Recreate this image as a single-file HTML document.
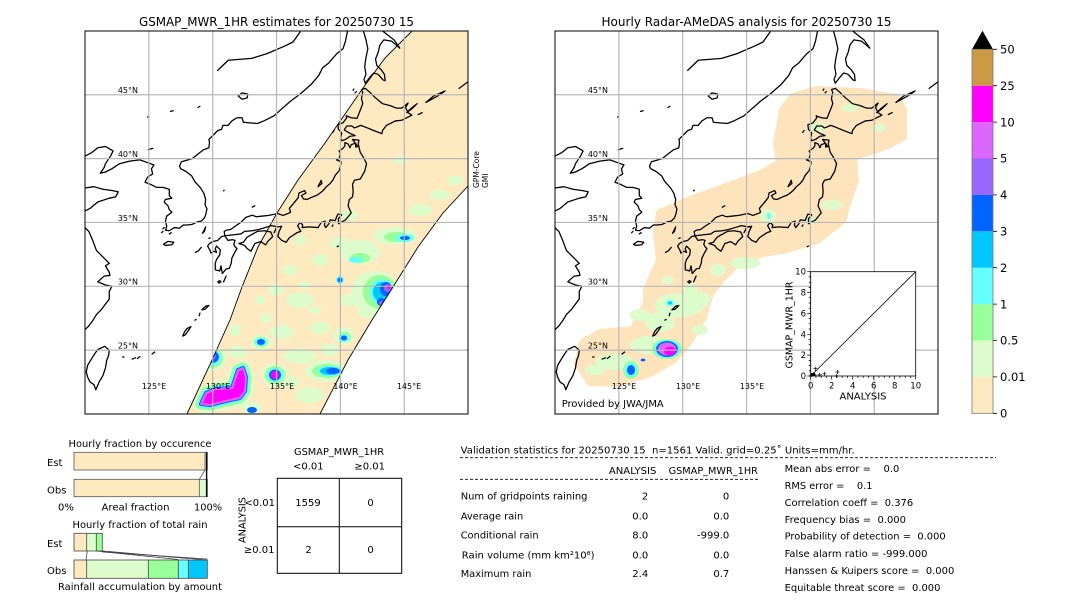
<!DOCTYPE html>
<html><head><meta charset="utf-8"><style>
html,body{margin:0;padding:0;background:#fff;}
svg{display:block;}
text{white-space:pre;font-family:"DejaVu Sans","Liberation Sans",sans-serif;fill:#000;}
</style></head><body>
<svg width="1080" height="612" viewBox="0 0 1080 612" xmlns="http://www.w3.org/2000/svg" xmlns:xlink="http://www.w3.org/1999/xlink">
<defs>
<clipPath id="cl"><rect x="85" y="31" width="383" height="383"/></clipPath>
<clipPath id="cr"><rect x="555" y="31" width="383" height="383"/></clipPath>
<clipPath id="sw"><path d="M412,31 L385,58 363,88 325,143 298,180 277,213 258,247 242,287 230,320 212,360 187,414 L320,414 348,360 372,320 393,287 418,247 443,213 468,186 L468,31 Z"/></clipPath>
<g id="coast" transform="matrix(12.77 0 0 -12.77 -1447.4 669.4)" fill="none" stroke="#000" stroke-width="0.1" stroke-linejoin="round" stroke-linecap="round">
<path d="M120,40.2 120.5,40.45 121,40.85 121.6,40.95 122.2,40.6 122,40.2 121.6,39.6 121.5,39.3 121.2,38.85 121.6,38.95 122.1,39.2 122.7,39.6 123.5,39.8 124.3,39.9 125,39.65 125.4,39.5 125.2,39.2 125.3,38.8 124.9,38.55 124.7,38.15 125.1,38 125.6,37.75 126.1,37.75 126.6,37.6 126.6,37.1 126.8,36.9 126.3,36.8 126.2,36.6 126.5,36.3 126.6,36 126.8,35.8 126.4,35.5 126.3,35.1 126.4,34.7 126.3,34.4 126.6,34.35 127,34.6 127.4,34.55 127.7,34.8 128,34.8 128.4,34.85 128.8,35.05 129.1,35.1 129.35,35.35 129.45,35.6 129.55,36.05 129.4,36.4 129.45,36.8 129.3,37.3 129.05,37.7 128.6,38.2 128.35,38.65 127.9,39 127.5,39.2 127.4,39.4 127.55,39.75 127.9,39.85 128.4,40 128.9,40.4 129.3,40.7 129.7,40.85 129.75,41.3 129.7,41.5 130,41.8 130.4,42.2 130.7,42.3 130.8,42.6 131.2,42.6 131.5,42.95 131.9,43.2 132.3,43.2 132.4,42.85 132.9,42.8 133.5,42.75 134,42.95 134.8,43.35 135.3,43.8 136.1,44.5 136.9,45.1 137.7,45.8 138.3,46.5 138.6,47.1 139.1,47.5 139.7,48.2 140.2,48.6 140.4,49.2 140.6,50.2"/>
<path d="M120,37.7 120.7,37.8 121.4,37.6 122.1,37.5 122.6,37.4 122.4,37 121.9,36.9 121,36.6 120.4,36.1 120,35.9"/>
<path d="M120,34.6 120.3,34.3 120.6,33.6 120.9,32.8 121.4,32.3 121.9,31.8 121.6,31.6 121.9,31.1 121.95,30.85 121.5,30.8 121,30.35 121.6,30.1 122.1,30 121.9,29.6 121.9,29 121.6,28.6 121.3,28.2 120.9,27.8 120.6,27.3 120.3,26.9 120,26.6"/>
<path d="M121,25.05 121.55,25.3 121.9,25 121.85,24.6 121.7,24.2 121.6,23.6 121.4,23 121.1,22.5 120.85,21.9 120.7,22.3 120.4,22.5 120.2,22.9 120.1,23.3 120.2,23.8 120.5,24.3 120.75,24.7 Z"/>
<path d="M141.95,45.5 142.3,45.2 142.7,44.8 143.3,44.3 143.9,44.15 144.4,43.95 144.8,43.95 145.3,44.35 145.1,44 145.3,43.6 145.6,43.4 145.2,43.2 144.8,43 144.3,42.95 143.6,42.6 143.3,42.2 143.25,41.95 142.6,42.2 142,42.45 141.6,42.6 141.1,42.4 140.9,42.55 140.5,42.55 140.3,42.25 140.7,42 141.15,41.8 140.75,41.75 140.4,41.5 140.1,41.4 140,41.6 140.1,42 139.85,42.3 139.8,42.65 140.2,42.8 140.5,43.2 140.45,43.35 140.85,43.2 141.3,43.15 141.4,43.4 141.6,43.9 141.75,44.3 141.65,44.7 141.75,45.2 141.65,45.4 Z"/>
<path d="M140.35,41.25 140.6,41.15 140.75,40.85 140.85,41.1 141.2,41.2 141.2,40.9 141.35,40.95 141.1,41.3 140.95,41.5 141.45,41.45 141.4,41.15 141.55,40.5 141.8,40.1 142.05,39.6 141.9,39 141.55,38.4 141.1,38.3 140.95,38 141,37.4 140.95,37 140.7,36.8 140.6,36.3 140.85,35.75 140.4,35.2 139.85,34.9 139.85,35.3 140.1,35.6 139.8,35.65 139.65,35.3 139.6,35.15 139.2,35.2 139.1,34.9 138.85,34.6 138.75,34.8 138.8,35.1 138.5,35 138.25,34.6 137.5,34.65 137,34.6 137.05,34.8 136.85,35 136.65,34.75 136.9,34.3 136.6,34.2 136,33.8 135.75,33.45 135.4,33.6 135.1,33.9 135.2,34.3 135.4,34.7 135.1,34.65 134.6,34.75 134.1,34.6 133.6,34.45 133.1,34.35 132.5,34.3 132.2,34.1 131.75,34.05 131.3,34 130.95,33.95 130.9,34.3 131.1,34.4 131.4,34.45 131.75,34.7 132.2,35 132.6,35.4 133.1,35.57 133.4,35.45 133.9,35.5 134.4,35.55 135.1,35.7 135.5,35.55 135.9,35.7 136.1,35.8 136,36.1 136.3,36.45 136.7,36.95 136.75,37.3 137.2,37.5 137.3,37.3 136.95,37.1 137.1,36.85 137.4,36.8 137.7,36.95 138.2,37.15 138.6,37.45 138.9,37.8 139.2,38.05 139.4,38.3 139.6,38.7 139.9,39.05 140,39.4 140.05,39.75 139.7,39.9 139.9,40 140,40.4 139.9,40.6 140.2,40.8 140.35,41 Z"/>
<path d="M132.05,33.35 132.4,33.45 132.7,33.85 133.05,34.05 133.5,34.3 134.05,34.35 134.55,34.25 134.7,33.9 134.3,33.5 134.15,33.25 133.75,33.5 133.3,33.35 133,32.75 132.7,32.95 132.5,33.2 Z"/>
<path d="M130.95,33.95 130.7,33.9 130.4,33.6 130,33.5 129.75,33.35 129.6,33.15 129.8,32.8 129.85,32.6 130.1,32.75 130.3,32.65 130.2,32.95 130.3,33.15 130.6,32.85 130.55,32.45 130.3,32.1 130.2,31.8 130.2,31.3 130.55,31.2 130.65,31.6 130.75,31 131.05,31.35 131.3,31.4 131.45,31.8 131.5,32.2 131.7,32.6 131.9,32.95 131.75,33.1 131.65,33.3 131.75,33.6 131.55,33.65 131.2,33.6 Z"/>
<path d="M141.75,50.2 142,49.3 142.15,48.6 142,47.9 141.9,47.2 142,46.6 141.85,46.2 141.95,45.9 142.25,46.3 142.6,46.7 142.95,46.6 143.35,46.15 143.5,46.1 143.45,46.6 143.2,46.95 142.85,47.3 142.75,47.8 142.95,48.3 143.1,48.9 143.4,49.3 144,49.2 144.3,48.95 144.65,48.65 144.2,49.3 143.8,49.6 143.3,50 143.25,50.3"/>
<path d="M130.39,46.91 131.22,47.7 133.05,47.85 134.23,48.21 135.66,48.82 136.29,49.13 136.84,49.91"/>
<path d="M132.0,44.9 132.3,45.15 132.75,45.05 132.7,44.75 132.3,44.65 Z"/>
<path d="M145.2,43.6 145.5,43.9 146,44.3 145.6,43.9 Z M146.7,44.4 147.3,44.9 148.2,45.3 147.8,45 Z M149.3,45.5 150.1,46.1 M146.1,43.45 146.4,43.6 M141.15,45.15 141.25,45.25 M141.0,45.35 141.05,45.45 M139.4,42.05 139.5,42.2"/>
<path d="M138.25,37.8 138.5,38.3 138.55,38.05 138.3,37.85 Z M133.1,36.2 133.3,36.3 M129.2,34.15 129.35,34.45 129.45,34.65 129.35,34.3 Z M129.7,33.75 129.8,33.8 M128.65,32.65 128.9,32.8 129.1,33.05 M126.15,33.3 126.5,33.52 126.95,33.45 126.8,33.25 126.3,33.2 Z M130.85,37.48 130.9,37.53 M139.35,34.7 139.42,34.8 M139.75,33.1 139.85,33.15 M134.8,34.2 135,34.6"/>
<path d="M130.85,30.35 131.05,30.8 M130.4,30.35 130.55,30.45 130.65,30.35 130.5,30.25 Z M129.15,28.15 129.45,28.45 129.7,28.5 129.4,28.2 Z M128.95,27.7 129,27.9 M128.6,27.35 128.7,27.4 M127.65,26.1 127.8,26.45 128,26.7 128.3,26.85 128.1,26.55 127.85,26.2 Z M125.25,24.7 125.45,24.85 M124.1,24.35 124.3,24.5 M123.7,24.3 123.95,24.4 M122.95,24.45 123.05,24.47"/>
<path d="M124.9,43.25 125,43.3 M126.7,43.7 126.9,43.75 M128.85,44 129,44.1 M124.95,40.7 125.3,40.8 M126.1,34.5 126.2,34.6 M126.0,34.2 126.1,34.3 M126.6,34.1 126.75,34.2"/>
</g>
</defs>
<rect width="1080" height="612" fill="#fff"/>

<!-- LEFT MAP -->
<text x="276.5" y="26" text-anchor="middle" font-size="12" textLength="275" lengthAdjust="spacingAndGlyphs">GSMAP_MWR_1HR estimates for 20250730 15</text>
<g clip-path="url(#cl)">
<path d="M412,31 L385,58 363,88 325,143 298,180 277,213 258,247 242,287 230,320 212,360 187,414 L320,414 348,360 372,320 393,287 418,247 443,213 468,186 L468,31 Z" fill="#ffe9c0"/>
<g clip-path="url(#sw)">
<g fill="#dcfccc">
<ellipse cx="395" cy="236" rx="22" ry="9"/><ellipse cx="360" cy="252" rx="20" ry="12"/><ellipse cx="340" cy="243" rx="10" ry="6"/><ellipse cx="375" cy="293" rx="24" ry="22"/><ellipse cx="300" cy="300" rx="14" ry="8"/><ellipse cx="276" cy="290" rx="8" ry="6"/><ellipse cx="320" cy="328" rx="10" ry="6"/><ellipse cx="282" cy="332" rx="12" ry="7"/><ellipse cx="300" cy="356" rx="16" ry="8"/><ellipse cx="266" cy="318" rx="6" ry="5"/><ellipse cx="330" cy="350" rx="9" ry="6"/><ellipse cx="344" cy="336" rx="10" ry="9"/><ellipse cx="327" cy="371" rx="22" ry="11"/><ellipse cx="261" cy="342" rx="10" ry="8"/><ellipse cx="212" cy="358" rx="15" ry="13"/><ellipse cx="275" cy="375" rx="14" ry="12"/><ellipse cx="252" cy="408" rx="10" ry="6"/><ellipse cx="238" cy="352" rx="10" ry="6"/><ellipse cx="290" cy="382" rx="10" ry="6"/><ellipse cx="310" cy="395" rx="14" ry="8"/><ellipse cx="290" cy="270" rx="8" ry="5"/><ellipse cx="320" cy="260" rx="8" ry="6"/><ellipse cx="350" cy="215" rx="8" ry="5"/><ellipse cx="420" cy="210" rx="12" ry="6"/><ellipse cx="440" cy="195" rx="10" ry="5"/><ellipse cx="368" cy="312" rx="10" ry="6"/><ellipse cx="300" cy="240" rx="6" ry="5"/><ellipse cx="260" cy="300" rx="5" ry="5"/><ellipse cx="235" cy="330" rx="6" ry="6"/><ellipse cx="305" cy="285" rx="6" ry="4"/><ellipse cx="348" cy="300" rx="8" ry="6"/><ellipse cx="315" cy="310" rx="6" ry="4"/><ellipse cx="400" cy="160" rx="6" ry="4"/><ellipse cx="455" cy="180" rx="8" ry="5"/>
</g>
<g fill="#99ff99">
<ellipse cx="360" cy="258" rx="10" ry="5"/><ellipse cx="380" cy="292" rx="17" ry="17"/><ellipse cx="396" cy="237" rx="12" ry="5"/><ellipse cx="327" cy="371" rx="15" ry="7"/><ellipse cx="212" cy="358" rx="11" ry="10"/><ellipse cx="275" cy="375" rx="10" ry="9"/><ellipse cx="345" cy="337" rx="6" ry="5"/><ellipse cx="261" cy="342" rx="7" ry="5"/>
</g>
<g fill="#66ffff">
<ellipse cx="356" cy="260" rx="7" ry="3"/><ellipse cx="405" cy="238" rx="9" ry="4"/><ellipse cx="382" cy="292" rx="12" ry="13"/><ellipse cx="340" cy="280" rx="4" ry="4"/><ellipse cx="330" cy="371" rx="12" ry="5"/><ellipse cx="212" cy="358" rx="9" ry="8"/><ellipse cx="275" cy="375" rx="8" ry="7"/><ellipse cx="344" cy="338" rx="5" ry="4"/><ellipse cx="261" cy="342" rx="6" ry="4"/>
</g>
<g fill="#00c8ff"><ellipse cx="382" cy="292" rx="9" ry="10"/><ellipse cx="330" cy="371" rx="10" ry="4"/></g>
<g fill="#0064ff">
<ellipse cx="405" cy="238" rx="5" ry="2"/><ellipse cx="386" cy="289" rx="6" ry="7"/><ellipse cx="381" cy="302" rx="4" ry="4"/><ellipse cx="340" cy="280" rx="2.5" ry="2.5"/><ellipse cx="333" cy="371" rx="7" ry="3"/><ellipse cx="212" cy="357" rx="7" ry="6"/><ellipse cx="261" cy="342" rx="4" ry="3"/><ellipse cx="344" cy="338" rx="3" ry="2.5"/><ellipse cx="275" cy="375" rx="6" ry="5.5"/><ellipse cx="252" cy="410" rx="5" ry="3"/>
</g>
<g fill="#9966ff"><ellipse cx="388" cy="288" rx="4" ry="4"/><ellipse cx="212" cy="356" rx="4" ry="3.5"/><ellipse cx="381" cy="303" rx="2" ry="2"/></g>
<g fill="#ff00ff"><ellipse cx="275" cy="375" rx="4" ry="4"/><ellipse cx="389" cy="287" rx="2" ry="2"/></g>
<g stroke-linejoin="round">
<path d="M201,404 L206,393 216,389 232,388 235,379 238,370 243,368 246,377 245,391 240,398 226,401 210,405 Z" fill="#dcfccc" stroke="#dcfccc" stroke-width="16"/>
<path d="M201,404 L206,393 216,389 232,388 235,379 238,370 243,368 246,377 245,391 240,398 226,401 210,405 Z" fill="#99ff99" stroke="#99ff99" stroke-width="11"/>
<path d="M201,404 L206,393 216,389 232,388 235,379 238,370 243,368 246,377 245,391 240,398 226,401 210,405 Z" fill="#66ffff" stroke="#66ffff" stroke-width="7"/>
<path d="M201,404 L206,393 216,389 232,388 235,379 238,370 243,368 246,377 245,391 240,398 226,401 210,405 Z" fill="#0064ff" stroke="#0064ff" stroke-width="4"/>
<path d="M201,404 L206,393 216,389 232,388 235,379 238,370 243,368 246,377 245,391 240,398 226,401 210,405 Z" fill="#dd66ff" stroke="#dd66ff" stroke-width="2"/>
<path d="M203,403 L207,394 216,390 233,389 236,380 239,371 243,370 245,378 244,391 239,397 226,400 210,404 Z" fill="#ff00ff"/>
</g>
</g>
<polyline points="412,31 385,58 363,88 325,143 298,180 277,213 258,247 242,287 230,320 212,360 187,414" fill="none" stroke="#000" stroke-width="0.9"/>
<polyline points="320,414 348,360 372,320 393,287 418,247 443,213 468,186" fill="none" stroke="#000" stroke-width="0.9"/>
<use xlink:href="#coast" href="#coast"/>
<g stroke="#b8b8b8" stroke-width="1.2">
<line x1="148.85" y1="31" x2="148.85" y2="414"/><line x1="212.7" y1="31" x2="212.7" y2="414"/><line x1="276.55" y1="31" x2="276.55" y2="414"/><line x1="340.4" y1="31" x2="340.4" y2="414"/><line x1="404.25" y1="31" x2="404.25" y2="414"/>
<line x1="85" y1="94.75" x2="468" y2="94.75"/><line x1="85" y1="158.6" x2="468" y2="158.6"/><line x1="85" y1="222.45" x2="468" y2="222.45"/><line x1="85" y1="286.3" x2="468" y2="286.3"/><line x1="85" y1="350.15" x2="468" y2="350.15"/>
</g>
<g font-size="8" fill="#222" text-anchor="end">
<text x="138" y="93">45°N</text><text x="138" y="157">40°N</text><text x="138" y="220.8">35°N</text><text x="138" y="284.6">30°N</text><text x="138" y="348.5">25°N</text>
</g>
<g font-size="8" fill="#222" text-anchor="middle">
<text x="154" y="389">125°E</text><text x="218" y="389">130°E</text><text x="282" y="389">135°E</text><text x="345.5" y="389">140°E</text><text x="409" y="389">145°E</text>
</g>
</g>
<rect x="85" y="31" width="383" height="383" fill="none" stroke="#000" stroke-width="1"/>
<text transform="translate(479,188) rotate(-90)" font-size="7.5">GPM-Core</text>
<text transform="translate(488,188) rotate(-90)" font-size="7.5">GMI</text>

<!-- RIGHT MAP -->
<text x="746.5" y="26" text-anchor="middle" font-size="12" textLength="290" lengthAdjust="spacingAndGlyphs">Hourly Radar-AMeDAS analysis for 20250730 15</text>
<g clip-path="url(#cr)">
<path d="M817,90 L860,92 897,98 903,110 903,137 888,145 853,157 855,180 845,210 843,220 817,240 783,250 763,253 737,263 723,277 710,293 703,317 690,340 673,360 650,373 617,383 590,382 578,363 583,343 600,333 633,330 647,303 647,290 660,260 657,233 660,213 690,200 737,183 763,173 780,163 777,143 783,110 793,97 Z" fill="#fde4bd" stroke="#fde4bd" stroke-width="8" stroke-linejoin="round"/>
<g fill="#dcfccc">
<ellipse cx="680" cy="305" rx="25" ry="12"/><ellipse cx="660" cy="322" rx="15" ry="10"/><ellipse cx="700" cy="300" rx="10" ry="8"/><ellipse cx="640" cy="315" rx="10" ry="6"/><ellipse cx="615" cy="362" rx="20" ry="8"/><ellipse cx="595" cy="370" rx="10" ry="5"/><ellipse cx="650" cy="345" rx="20" ry="9"/><ellipse cx="690" cy="290" rx="8" ry="6"/><ellipse cx="850" cy="108" rx="8" ry="4"/><ellipse cx="818" cy="127" rx="8" ry="5"/><ellipse cx="768" cy="216" rx="8" ry="7"/><ellipse cx="832" cy="205" rx="10" ry="5"/><ellipse cx="810" cy="220" rx="6" ry="4"/><ellipse cx="745" cy="263" rx="15" ry="6"/><ellipse cx="718" cy="270" rx="8" ry="6"/><ellipse cx="668" cy="280" rx="6" ry="4"/><ellipse cx="880" cy="128" rx="6" ry="4"/><ellipse cx="700" cy="330" rx="8" ry="5"/>
</g>
<ellipse cx="667" cy="349" rx="15" ry="10" fill="#99ff99"/>
<ellipse cx="667" cy="349" rx="13" ry="9" fill="#66ffff"/>
<ellipse cx="667" cy="349" rx="11" ry="8" fill="#0064ff"/>
<ellipse cx="667" cy="349" rx="9" ry="6.5" fill="#dd66ff"/>
<ellipse cx="670" cy="351" rx="6" ry="4.5" fill="#ff00ff"/>
<ellipse cx="631" cy="370" rx="8" ry="9" fill="#99ff99"/>
<ellipse cx="631" cy="370" rx="6" ry="7" fill="#66ffff"/>
<ellipse cx="631" cy="370" rx="4" ry="5" fill="#0064ff"/>
<ellipse cx="670" cy="303" rx="4" ry="3" fill="#66ffff"/>
<ellipse cx="670" cy="303" rx="2" ry="1.5" fill="#00c8ff"/>
<ellipse cx="643" cy="360" rx="2.5" ry="1.5" fill="#0064ff"/>
<ellipse cx="769" cy="216" rx="2" ry="3" fill="#66ffff"/>
<use xlink:href="#coast" href="#coast" transform="translate(470,0)"/>
<g stroke="#b8b8b8" stroke-width="1.2">
<line x1="618.85" y1="31" x2="618.85" y2="414"/><line x1="682.7" y1="31" x2="682.7" y2="414"/><line x1="746.55" y1="31" x2="746.55" y2="414"/><line x1="810.4" y1="31" x2="810.4" y2="414"/><line x1="874.25" y1="31" x2="874.25" y2="414"/>
<line x1="555" y1="94.75" x2="938" y2="94.75"/><line x1="555" y1="158.6" x2="938" y2="158.6"/><line x1="555" y1="222.45" x2="938" y2="222.45"/><line x1="555" y1="286.3" x2="938" y2="286.3"/><line x1="555" y1="350.15" x2="938" y2="350.15"/>
</g>
<g font-size="8" fill="#222" text-anchor="end">
<text x="608" y="93">45°N</text><text x="608" y="157">40°N</text><text x="608" y="220.8">35°N</text><text x="608" y="284.6">30°N</text><text x="608" y="348.5">25°N</text>
</g>
<g font-size="8" fill="#222" text-anchor="middle">
<text x="624" y="389">125°E</text><text x="688" y="389">130°E</text><text x="752" y="389">135°E</text>
</g>
<!-- inset scatter -->
<rect x="810.7" y="271.7" width="105" height="104.3" fill="#fff" stroke="#000" stroke-width="0.8"/>
<line x1="810.7" y1="376" x2="915.7" y2="271.7" stroke="#000" stroke-width="0.8"/>
<g stroke="#000" stroke-width="0.7">
<path d="M810.7,376v3.5 M831.7,376v3.5 M852.7,376v3.5 M873.7,376v3.5 M894.7,376v3.5 M915.7,376v3.5"/>
<path d="M810.7,376h-3.5 M810.7,355.1h-3.5 M810.7,334.3h-3.5 M810.7,313.4h-3.5 M810.7,292.6h-3.5 M810.7,271.7h-3.5"/>
<path d="M815.95,376v2 M821.2,376v2 M826.45,376v2 M836.95,376v2 M842.2,376v2 M847.45,376v2 M857.95,376v2 M863.2,376v2 M868.45,376v2 M878.95,376v2 M884.2,376v2 M889.45,376v2 M899.95,376v2 M905.2,376v2 M910.45,376v2"/>
<path d="M810.7,370.8h-2 M810.7,365.6h-2 M810.7,360.4h-2 M810.7,349.9h-2 M810.7,344.7h-2 M810.7,339.5h-2 M810.7,329h-2 M810.7,323.8h-2 M810.7,318.6h-2 M810.7,308.2h-2 M810.7,303h-2 M810.7,297.8h-2 M810.7,287.4h-2 M810.7,282.2h-2 M810.7,276.9h-2"/>
<path d="M809.7,375h4 M811.7,373v4 M811.8,374h3 M813.3,372.5v3 M813.5,375h3 M815,373.5v3 M813.3,368.7h4 M815.3,366.7v4 M817.6,374.9h4 M819.6,372.9v4 M822.4,373.8h4 M824.4,371.8v4 M835.4,372h4 M837.4,370v4 M834.3,376h4 M836.3,374v4"/>
</g>
<rect x="810.7" y="373" width="4" height="3" fill="#000"/>
<g font-size="8.5" text-anchor="middle" fill="#000">
<text x="810.7" y="388.3">0</text><text x="831.7" y="388.3">2</text><text x="852.7" y="388.3">4</text><text x="873.7" y="388.3">6</text><text x="894.7" y="388.3">8</text><text x="915.7" y="388.3">10</text>
</g>
<g font-size="8.5" text-anchor="end" fill="#000">
<text x="806" y="379">0</text><text x="806" y="358.1">2</text><text x="806" y="337.3">4</text><text x="806" y="316.4">6</text><text x="806" y="295.6">8</text><text x="806" y="274.7">10</text>
</g>
<text x="863" y="399.5" font-size="10" text-anchor="middle" textLength="47" lengthAdjust="spacingAndGlyphs">ANALYSIS</text>
<text transform="translate(792.5,325) rotate(-90)" font-size="10" text-anchor="middle" textLength="87" lengthAdjust="spacingAndGlyphs">GSMAP_MWR_1HR</text>
</g>
<rect x="555" y="31" width="383" height="383" fill="none" stroke="#000" stroke-width="1"/>
<text x="561.7" y="407" font-size="10" textLength="102" lengthAdjust="spacingAndGlyphs">Provided by JWA/JMA</text>

<!-- COLORBAR -->
<g>
<rect x="972" y="376.9" width="21" height="36.4" fill="#ffe9c0"/>
<rect x="972" y="340.5" width="21" height="36.4" fill="#dcfccc"/>
<rect x="972" y="304.1" width="21" height="36.4" fill="#99ff99"/>
<rect x="972" y="267.7" width="21" height="36.4" fill="#66ffff"/>
<rect x="972" y="231.3" width="21" height="36.4" fill="#00c8ff"/>
<rect x="972" y="194.9" width="21" height="36.4" fill="#0064ff"/>
<rect x="972" y="158.5" width="21" height="36.4" fill="#9966ff"/>
<rect x="972" y="122.1" width="21" height="36.4" fill="#dd66ff"/>
<rect x="972" y="85.7" width="21" height="36.4" fill="#ff00ff"/>
<rect x="972" y="49.3" width="21" height="36.4" fill="#cc9944"/>
<path d="M972,49.3 L982.5,30.7 L993,49.3 Z" fill="#000"/>
<rect x="972" y="49.3" width="21" height="364" fill="none" stroke="#777" stroke-width="0.8"/>
<g stroke="#000" stroke-width="0.8">
<path d="M993,413.3h4 M993,376.9h4 M993,340.5h4 M993,304.1h4 M993,267.7h4 M993,231.3h4 M993,194.9h4 M993,158.5h4 M993,122.1h4 M993,85.7h4 M993,49.3h4"/>
</g>
<g font-size="11.5">
<text x="1000" y="417.5">0</text><text x="1000" y="381">0.01</text><text x="1000" y="344.7">0.5</text><text x="1000" y="308.3">1</text><text x="1000" y="271.9">2</text><text x="1000" y="235.5">3</text><text x="1000" y="199.1">4</text><text x="1000" y="162.7">5</text><text x="1000" y="126.3">10</text><text x="1000" y="89.9">25</text><text x="1000" y="53.5">50</text>
</g>
</g>

<!-- BOTTOM LEFT: fraction charts -->
<g font-size="10">
<text x="140" y="447" text-anchor="middle" textLength="143" lengthAdjust="spacingAndGlyphs">Hourly fraction by occurence</text>
<text x="47" y="466">Est</text>
<text x="47" y="493.5">Obs</text>
<rect x="74" y="452.3" width="131" height="17.7" fill="#ffe9c0"/>
<rect x="205" y="452.3" width="1.5" height="17.7" fill="#dcfccc"/>
<rect x="74" y="479.3" width="125.3" height="17.4" fill="#ffe9c0"/>
<rect x="199.3" y="479.3" width="6.7" height="17.4" fill="#dcfccc"/>
<g fill="none" stroke="#555" stroke-width="0.8">
<rect x="74" y="452.3" width="133.3" height="17.7"/>
<rect x="74" y="479.3" width="133.3" height="17.4"/>
<line x1="205" y1="452.3" x2="205" y2="470"/>
<line x1="199.3" y1="479.3" x2="199.3" y2="496.7"/>
<line x1="205" y1="470" x2="199.3" y2="479.3"/>
<line x1="206.5" y1="470" x2="206.5" y2="479.3"/>
</g>
<line x1="206.6" y1="452.3" x2="206.6" y2="497" stroke="#000" stroke-width="1.4"/>
<text x="58" y="510.5">0%</text>
<text x="135.5" y="510.5" text-anchor="middle" textLength="68" lengthAdjust="spacingAndGlyphs">Areal fraction</text>
<text x="194" y="510.5" textLength="28" lengthAdjust="spacingAndGlyphs">100%</text>
<text x="140" y="528" text-anchor="middle" textLength="135" lengthAdjust="spacingAndGlyphs">Hourly fraction of total rain</text>
<text x="47" y="547">Est</text>
<text x="47" y="574">Obs</text>
<rect x="74" y="533.3" width="12.7" height="17.7" fill="#ffe9c0"/>
<rect x="86.7" y="533.3" width="9.6" height="17.7" fill="#dcfccc"/>
<rect x="96.3" y="533.3" width="6" height="17.7" fill="#99ff99"/>
<rect x="74" y="560" width="12.7" height="18.3" fill="#ffe9c0"/>
<rect x="86.7" y="560" width="61.6" height="18.3" fill="#dcfccc"/>
<rect x="148.3" y="560" width="30" height="18.3" fill="#99ff99"/>
<rect x="178.3" y="560" width="10" height="18.3" fill="#66ffff"/>
<rect x="188.3" y="560" width="19" height="18.3" fill="#00c8ff"/>
<g fill="none" stroke="#444" stroke-width="0.8">
<rect x="74" y="533.3" width="28.3" height="17.7"/>
<line x1="86.7" y1="533.3" x2="86.7" y2="551"/><line x1="96.3" y1="533.3" x2="96.3" y2="551"/>
<rect x="74" y="560" width="133.3" height="18.3"/>
<line x1="86.7" y1="560" x2="86.7" y2="578.3"/><line x1="148.3" y1="560" x2="148.3" y2="578.3"/><line x1="178.3" y1="560" x2="178.3" y2="578.3"/><line x1="188.3" y1="560" x2="188.3" y2="578.3"/>
<line x1="87.3" y1="551" x2="86" y2="560"/>
<line x1="96.3" y1="551" x2="178.3" y2="559.5"/>
<line x1="102.3" y1="551" x2="188.3" y2="558.5"/>
<line x1="102.3" y1="551" x2="207.3" y2="560"/>
<line x1="102.3" y1="552" x2="207.3" y2="559"/>
</g>
<text x="140" y="590" text-anchor="middle" textLength="164" lengthAdjust="spacingAndGlyphs">Rainfall accumulation by amount</text>
</g>

<!-- CONTINGENCY TABLE -->
<g font-size="10">
<text x="339" y="455" text-anchor="middle" textLength="90" lengthAdjust="spacingAndGlyphs">GSMAP_MWR_1HR</text>
<text x="308.3" y="469.5" text-anchor="middle">&lt;0.01</text>
<text x="369.7" y="469.5" text-anchor="middle">≥0.01</text>
<rect x="277.3" y="478.3" width="124.4" height="95" fill="none" stroke="#000" stroke-width="1"/>
<line x1="339.3" y1="478.3" x2="339.3" y2="573.3" stroke="#000" stroke-width="1"/>
<line x1="277.3" y1="526.7" x2="401.7" y2="526.7" stroke="#000" stroke-width="1"/>
<text x="308" y="505.8" text-anchor="middle">1559</text>
<text x="370.5" y="505.8" text-anchor="middle">0</text>
<text x="308.5" y="553" text-anchor="middle">2</text>
<text x="370.5" y="553" text-anchor="middle">0</text>
<text x="275" y="505.8" text-anchor="end">&lt;0.01</text>
<text x="274.5" y="553" text-anchor="end">≥0.01</text>
<text transform="translate(245.5,520) rotate(-90)" text-anchor="middle" textLength="46" lengthAdjust="spacingAndGlyphs">ANALYSIS</text>
</g>

<!-- STATS -->
<g font-size="10">
<text x="460.7" y="453.5" textLength="394" lengthAdjust="spacingAndGlyphs">Validation statistics for 20250730 15  n=1561 Valid. grid=0.25˚ Units=mm/hr.</text>
<line x1="460" y1="457.7" x2="996" y2="457.7" stroke="#000" stroke-width="0.8" stroke-dasharray="3,2"/>
<text x="608.9" y="474.2" textLength="47.5" lengthAdjust="spacingAndGlyphs">ANALYSIS</text>
<text x="668.6" y="474.2" textLength="89.3" lengthAdjust="spacingAndGlyphs">GSMAP_MWR_1HR</text>
<line x1="460" y1="479.3" x2="758" y2="479.3" stroke="#000" stroke-width="0.8" stroke-dasharray="3,2"/>
<text x="460.7" y="499.5" textLength="126.8" lengthAdjust="spacingAndGlyphs">Num of gridpoints raining</text>
<text x="460.7" y="519.5" textLength="62.5" lengthAdjust="spacingAndGlyphs">Average rain</text>
<text x="460.7" y="538.5" textLength="77.9" lengthAdjust="spacingAndGlyphs">Conditional rain</text>
<text x="461.8" y="558.5" textLength="132.8" lengthAdjust="spacingAndGlyphs">Rain volume (mm km²10⁶)</text>
<text x="460.7" y="576.8" textLength="70.7" lengthAdjust="spacingAndGlyphs">Maximum rain</text>
<g text-anchor="end">
<text x="648.2" y="499.5">2</text><text x="648.2" y="519.5">0.0</text><text x="648.2" y="538.5">8.0</text><text x="648.2" y="558.5">0.0</text><text x="648.2" y="576.8">2.4</text>
<text x="729.3" y="499.5">0</text><text x="729.3" y="519.5">0.0</text><text x="729.3" y="538.5">-999.0</text><text x="729.3" y="558.5">0.0</text><text x="729.3" y="576.8">0.7</text>
</g>
<text x="784.6" y="471.8" textLength="114.7" lengthAdjust="spacingAndGlyphs">Mean abs error =    0.0</text>
<text x="784.6" y="489.2" textLength="87.9" lengthAdjust="spacingAndGlyphs">RMS error =    0.1</text>
<text x="784.6" y="506.2" textLength="128.6" lengthAdjust="spacingAndGlyphs">Correlation coeff =  0.376</text>
<text x="784.6" y="522.8" textLength="121.4" lengthAdjust="spacingAndGlyphs">Frequency bias =  0.000</text>
<text x="784.6" y="539.5" textLength="161.1" lengthAdjust="spacingAndGlyphs">Probability of detection =  0.000</text>
<text x="784.6" y="556.8" textLength="142.9" lengthAdjust="spacingAndGlyphs">False alarm ratio = -999.000</text>
<text x="784.6" y="574.2" textLength="169.7" lengthAdjust="spacingAndGlyphs">Hanssen &amp; Kuipers score =  0.000</text>
<text x="784.6" y="591.2" textLength="155.8" lengthAdjust="spacingAndGlyphs">Equitable threat score =  0.000</text>
</g>
</svg>
</body></html>
